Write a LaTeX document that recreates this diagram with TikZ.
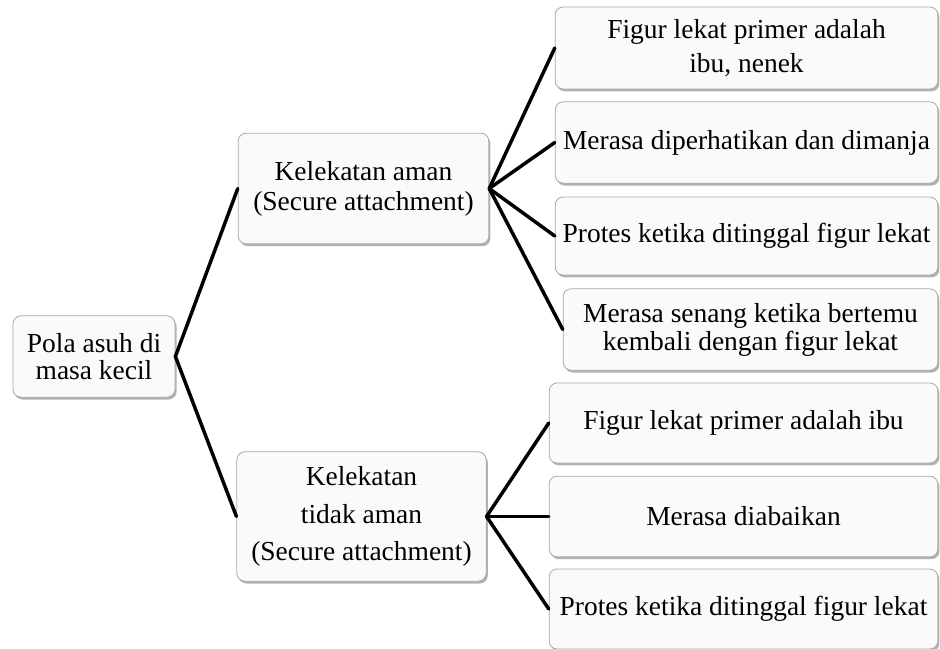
\documentclass[tikz,border=0pt]{standalone}
\usepackage{fontspec}
\setmainfont{Liberation Serif}
\usepackage{tikz}
\usetikzlibrary{shapes,shapes.misc,shadows}
\definecolor{boxfill}{HTML}{FAFAFA}
\definecolor{boxline}{HTML}{A8A8A8}

\begin{document}
\begin{tikzpicture}[x=0.75pt,y=-0.75pt,
        every node/.append style={font=\fontsize{20.6}{22.5}\selectfont}]
      \tikzstyle{box} = [draw=boxline,fill=boxfill,rounded corners=6pt,line width=0.6pt,
        align=center,inner sep=2pt,
        drop shadow={shadow xshift=1.2pt,shadow yshift=-1.8pt,fill=black,opacity=0.3}]
      \tikzstyle{link} = [line width=2.6pt,line cap=round,black]
      \useasboundingbox (0,0) rectangle (940,649);
      % left and middle column
      \node (ROOT) [box,minimum width=121.5pt,minimum height=61pt,
        font=\fontsize{20.6}{20.6}\selectfont] at (94,356.5) {Pola asuh di\\masa kecil};
      \node (aman) [box,minimum width=188pt,minimum height=83pt] at (363.5,188.5)
        {Kelekatan aman\\(Secure attachment)};
      \node (tidakaman) [box,minimum width=187pt,minimum height=97pt,
        font=\fontsize{20.6}{28}\selectfont] at (361.5,516.5)
        {Kelekatan\\tidak aman\\(Secure attachment)};
      % right column
      \node (primer) [box,minimum width=287pt,minimum height=61.5pt,
        font=\fontsize{20.6}{25.5}\selectfont] at (746.5,48)
        {Figur lekat primer adalah\\ibu, nenek};
      \node (dimanja) [box,minimum width=287pt,minimum height=61pt] at (746.5,142.5)
        {Merasa diperhatikan dan dimanja};
      \node (protesA) [box,minimum width=287pt,minimum height=58.5pt] at (746.5,236)
        {Protes ketika ditinggal figur lekat};
      \node (senang) [box,minimum width=281pt,minimum height=61pt,
        font=\fontsize{20.6}{21}\selectfont] at (750.5,329.5)
        {Merasa senang ketika bertemu\\kembali dengan figur lekat};
      \node (ibu) [box,minimum width=291.5pt,minimum height=60pt] at (743.5,423)
        {Figur lekat primer adalah ibu};
      \node (abai) [box,minimum width=291.5pt,minimum height=60.5pt] at (743.5,516.5)
        {Merasa diabaikan};
      \node (protesB) [box,minimum width=291.5pt,minimum height=60pt] at (743.5,609)
        {Protes ketika ditinggal figur lekat};
      % connectors
      \draw[link] (aman.west) -- (ROOT.east) -- (tidakaman.west);
      \foreach \n in {primer,dimanja,protesA,senang}
        \draw[link] (aman.east) -- (\n.west);
      \foreach \n in {ibu,abai,protesB}
        \draw[link] (tidakaman.east) -- (\n.west);
    \end{tikzpicture}
\end{document}
